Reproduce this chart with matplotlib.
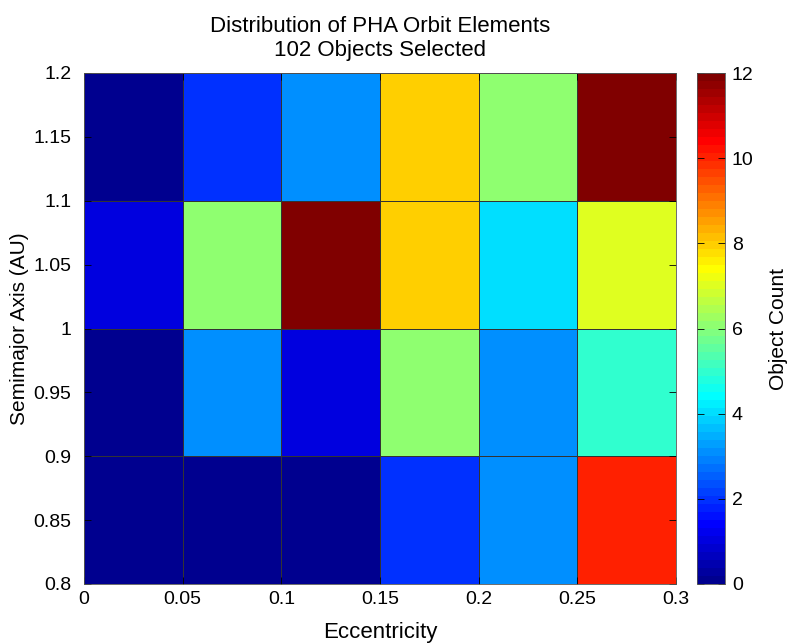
import numpy as np
import matplotlib
matplotlib.use("Agg")
import matplotlib.pyplot as plt
from matplotlib.colors import ListedColormap

plt.rcParams['font.family'] = ['Liberation Sans', 'DejaVu Sans']

ecc_edges = [0, 0.05, 0.1, 0.15, 0.2, 0.25, 0.3]
sma_edges = [0.8, 0.9, 1.0, 1.1, 1.2]
# rows: bottom (0.8-0.9) to top (1.1-1.2)
counts_08_09 = [0, 0, 0, 2, 3, 10]
counts_09_10 = [0, 3, 1, 6, 3, 5]
counts_10_11 = [1, 6, 12, 8, 4, 7]
counts_11_12 = [0, 2, 3, 8, 6, 12]
x_ticks = [0, 0.05, 0.1, 0.15, 0.2, 0.25, 0.3]
x_ticklabels = ['0', '0.05', '0.1', '0.15', '0.2', '0.25', '0.3']
y_ticks = [0.8, 0.85, 0.9, 0.95, 1.0, 1.05, 1.1, 1.15, 1.2]
y_ticklabels = ['0.8', '0.85', '0.9', '0.95', '1', '1.05', '1.1', '1.15', '1.2']
cb_ticks = [0, 2, 4, 6, 8, 10, 12]

def matlab_jet(m=64):
    n = int(np.ceil(m / 4))
    u = np.concatenate([np.arange(1, n + 1) / n, np.ones(n - 1), np.arange(n, 0, -1) / n])
    g = int(np.ceil(n / 2)) - (1 if m % 4 == 1 else 0) + np.arange(1, len(u) + 1)
    r = g + n
    b = g - n
    J = np.zeros((m, 3))
    for idx, ch in ((r, 0), (g, 1), (b, 2)):
        ok = (idx >= 1) & (idx <= m)
        J[idx[ok] - 1, ch] = u[ok]
    return ListedColormap(J)

cmap = matlab_jet(64)
Z = np.array([counts_08_09, counts_09_10, counts_10_11, counts_11_12])

fig = plt.figure(figsize=(7.89, 6.43), dpi=100)
ax = fig.add_axes([84/789, 1 - 584/643, (676-84)/789, (584-73)/643])
cax = fig.add_axes([697/789, 1 - 584/643, (725-697)/789, (584-73)/643])

mesh = ax.pcolormesh(ecc_edges, sma_edges, Z, cmap=cmap, vmin=0, vmax=12,
                     edgecolors='#333333', linewidth=0.5)
ax.set_xlim(0, 0.3)
ax.set_ylim(0.8, 1.2)
ax.set_xticks(x_ticks)
ax.set_xticklabels(x_ticklabels)
ax.set_yticks(y_ticks)
ax.set_yticklabels(y_ticklabels)
ax.tick_params(direction='in', top=True, right=True, labelsize=14, length=5, width=0.6)
ax.tick_params(axis='y', pad=9)
ax.tick_params(axis='x', pad=5)
for s in ax.spines.values():
    s.set_linewidth(0.6)
    s.set_color('#555555')
ax.set_xlabel('Eccentricity', fontsize=16, labelpad=10)
ax.set_ylabel('Semimajor Axis (AU)', fontsize=15, labelpad=3)
ax.set_title('Distribution of PHA Orbit Elements\n102 Objects Selected', fontsize=16, pad=12, linespacing=1.2)

cb = fig.colorbar(mesh, cax=cax)
cb.set_ticks(cb_ticks)
cb.ax.tick_params(direction='in', labelsize=14, length=5, width=0.6, left=True, right=True, pad=5)
cb.outline.set_linewidth(0.6)
cb.outline.set_edgecolor('#555555')
cb.set_label('Object Count', fontsize=15, labelpad=11)

fig.savefig('out.png', dpi=100)
